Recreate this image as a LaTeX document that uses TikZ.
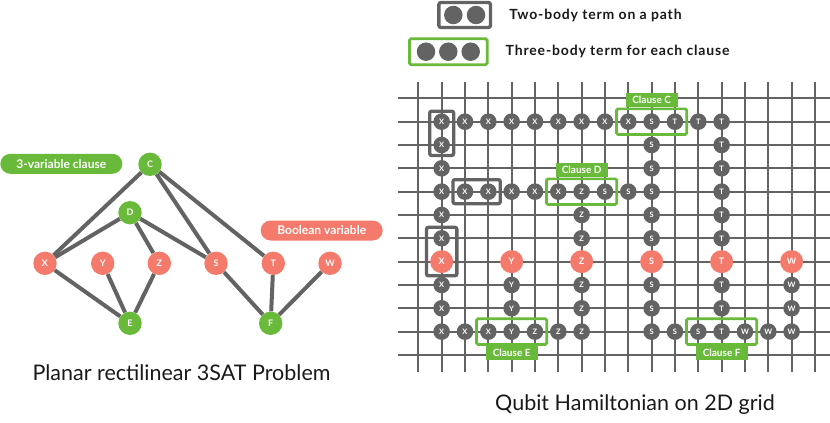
\documentclass[tikz,border=0pt]{standalone}
\usepackage{fontspec}
\setmainfont{Lato}
\newfontfamily\legendfont[LetterSpace=6]{Lato}
\usetikzlibrary{positioning, fit}
\definecolor{cGreen}{RGB}{105,185,58}
\definecolor{cSalmon}{RGB}{244,122,108}
\definecolor{cGray}{RGB}{99,99,99}
\definecolor{cText}{RGB}{25,25,25}
\tikzset{
    varnode/.style   ={circle, fill=cSalmon, text=white, minimum size=23.4pt, inner sep=0pt, font=\bfseries\fontsize{9}{9}\selectfont},
    clausenode/.style={circle, fill=cGreen, text=white, minimum size=23.4pt, inner sep=0pt, font=\bfseries\fontsize{9}{9}\selectfont},
    graphedge/.style ={draw=cGray, line width=4pt},
    pill/.style      ={rectangle, rounded corners=10pt, minimum width=122pt, minimum height=20pt, text=white, font=\bfseries\fontsize{12}{12}\selectfont},
    gridline/.style  ={draw=cGray, line width=2pt},
    qubit/.style     ={circle, fill=cGray, text=white, minimum size=16.6pt, inner sep=0pt, font=\bfseries\fontsize{7.5}{7.5}\selectfont},
    qvar/.style      ={circle, fill=cSalmon, text=white, minimum size=23pt, inner sep=0pt, font=\bfseries\fontsize{9}{9}\selectfont},
    legdot/.style    ={circle, fill=cGray, minimum size=18.5pt, inner sep=0pt},
    pathbox/.style   ={rectangle, draw=cGray, line width=3.3pt, rounded corners=2pt, inner sep=3.5pt},
    clausebox/.style ={rectangle, draw=cGreen, line width=2.7pt, rounded corners=1.5pt, inner xsep=3.3pt, inner ysep=4.3pt},
    clausetag/.style ={rectangle, fill=cGreen, text=white, minimum width=52pt, minimum height=14pt, inner sep=0pt, font=\bfseries\fontsize{10}{10}\selectfont},
    legendtext/.style={text=cText, inner sep=0pt, anchor=west, font=\legendfont\bfseries\fontsize{14}{14}\selectfont},
    title/.style     ={text=cText, inner sep=0pt, font=\fontsize{21.5}{21.5}\selectfont},
}
\begin{document}
\begin{tikzpicture}[x=1pt, y=-1pt]
\useasboundingbox (0,0) rectangle (830,423);

% legend
\node[legdot] (l2a) at (453.3,15) {};
\node[legdot] (l2b) at (476,15) {};
\node[pathbox, inner xsep=5pt, inner ysep=3pt, fit=(l2a)(l2b)] (l2box) {};
\node[legendtext, right=17pt of l2box] (l2txt) {Two-body term on a path};
\node[legdot] (l3a) at (426,51.7) {};
\node[legdot] (l3b) at (448.3,51.7) {};
\node[legdot] (l3c) at (470.7,51.7) {};
\node[clausebox, inner xsep=7pt, inner ysep=3.5pt, fit=(l3a)(l3c)] (l3box) {};
\node[legendtext, right=17pt of l3box] (l3txt) {Three-body term for each clause};

% 3SAT graph
\node[clausenode] (C) at (150,164.3) {C};
\node[clausenode] (D) at (130,212.7) {D};
\node[varnode] (X) at (45,263.3) {X};
\node[varnode] (Y) at (102.7,263.3) {Y};
\node[varnode] (Z) at (159.3,263.3) {Z};
\node[varnode] (S) at (216,263.3) {S};
\node[varnode] (T) at (273.3,263.3) {T};
\node[varnode] (W) at (330,263.3) {W};
\node[clausenode] (E) at (130,323.3) {E};
\node[clausenode] (F) at (270.7,323.3) {F};
\draw[graphedge] (C) -- (X);
\draw[graphedge] (C) -- (S);
\draw[graphedge] (C) -- (T);
\draw[graphedge] (D) -- (X);
\draw[graphedge] (D) -- (Z);
\draw[graphedge] (D) -- (S);
\draw[graphedge] (X) -- (E);
\draw[graphedge] (Y) -- (E);
\draw[graphedge] (Z) -- (E);
\draw[graphedge] (S) -- (F);
\draw[graphedge] (T) -- (F);
\draw[graphedge] (W) -- (F);
\node[pill, fill=cGreen] (clauselbl) at (61.3,163.8) {3-variable clause};
\node[pill, fill=cSalmon] (varlbl) at (321.7,230.5) {Boolean variable};
\node[title] (lefttitle) at (181.5,372.7) {Planar rectilinear 3SAT Problem};

% qubit grid
\begin{scope}[shift={(418.33,98.33)}, x=23.33pt, y=-23.33pt]
  \foreach \c in {0,...,17} \draw[gridline] (\c,-0.72) -- (\c,11.72);
  \foreach \r in {0,...,11} \draw[gridline] (-0.86,\r) -- (17.7,\r);
  \foreach \c/\r/\l in {1/1/X,2/1/X,3/1/X,4/1/X,5/1/X,6/1/X,7/1/X,8/1/X,9/1/X,10/1/S,11/1/T,12/1/T,13/1/T,
      1/2/X,1/3/X,1/4/X,1/5/X,1/6/X,1/8/X,1/9/X,1/10/X,
      2/4/X,3/4/X,4/4/X,5/4/X,6/4/X,7/4/Z,8/4/S,9/4/S,10/4/S,
      10/2/S,10/3/S,10/5/S,10/6/S,10/8/S,10/9/S,10/10/S,
      13/2/T,13/3/T,13/4/T,13/5/T,13/6/T,13/8/T,13/9/T,13/10/T,
      7/5/Z,7/6/Z,7/8/Z,7/9/Z,7/10/Z,
      4/8/Y,4/9/Y,4/10/Y,
      16/8/W,16/9/W,16/10/W,
      2/10/X,3/10/X,5/10/Z,6/10/Z,11/10/S,12/10/S,14/10/W,15/10/W}
    \node[qubit] (q-\c-\r) at (\c,\r) {\l};
  \foreach \c/\l in {1/X,4/Y,7/Z,10/S,13/T,16/W}
    \node[qvar] (q-\c-7) at (\c,7) {\l};
  % two-body terms
  \node[pathbox, inner ysep=2pt, fit=(q-1-1)(q-1-2)] (pathA) {};
  \node[pathbox, fit=(q-2-4)(q-3-4)] (pathB) {};
  \node[pathbox, inner ysep=2.5pt, fit=(q-1-6)(q-1-7)] (pathC) {};
  % clauses
  \node[clausebox, fit=(q-9-1)(q-11-1)] (boxC) {};
  \node[clausetag, above=0pt of boxC] (tagC) {Clause C};
  \node[clausebox, fit=(q-6-4)(q-8-4)] (boxD) {};
  \node[clausetag, above=0pt of boxD] (tagD) {Clause D};
  \node[clausebox, fit=(q-3-10)(q-5-10)] (boxE) {};
  \node[clausetag, below=0pt of boxE] (tagE) {Clause E};
  \node[clausebox, fit=(q-12-10)(q-14-10)] (boxF) {};
  \node[clausetag, below=0pt of boxF] (tagF) {Clause F};
\end{scope}
\node[title] (righttitle) at (635,405) {Qubit Hamiltonian on 2D grid};
\end{tikzpicture}
\end{document}
